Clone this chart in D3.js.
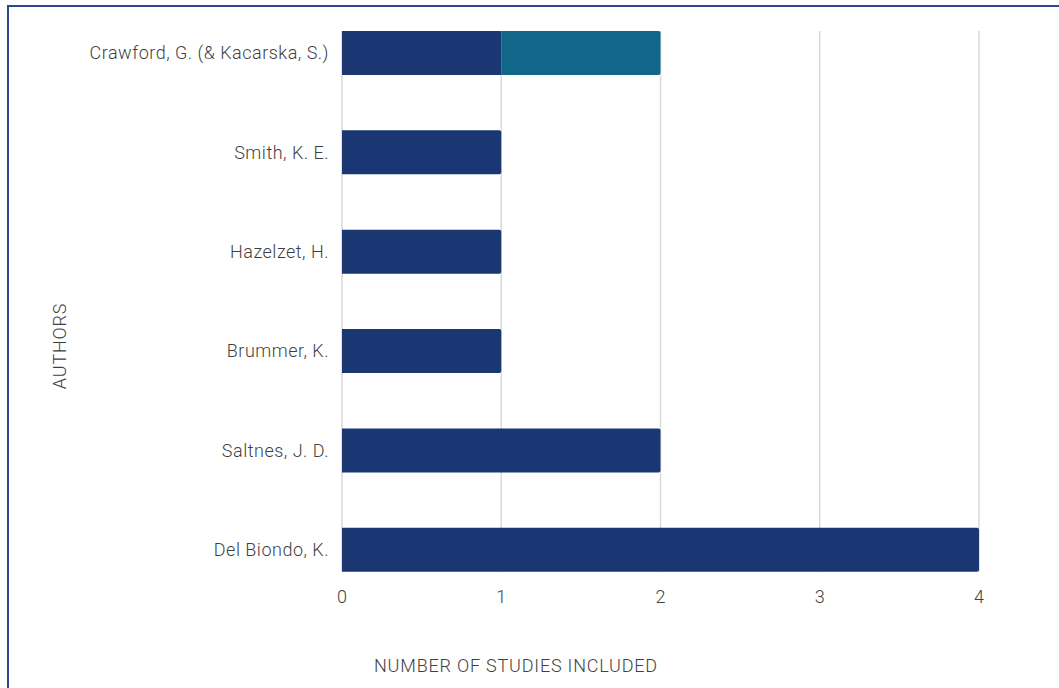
<!DOCTYPE html>
<html>
<head>
<meta charset="utf-8">
<script src="https://cdn.jsdelivr.net/npm/d3@7"></script>
<style>
  body { margin: 0; background: #fff; }
  text { font-family: Roboto, "Noto Sans", sans-serif; fill: #3f3f3f; font-weight: 300; }
</style>
</head>
<body>
<div class="chart"></div>
<script>
// authors top to bottom
const authors = ["Crawford, G. (& Kacarska, S.)", "Smith, K. E.", "Hazelzet, H.", "Brummer, K.", "Saltnes, J. D.", "Del Biondo, K."];
const mainStudies = [1, 1, 1, 1, 2, 4];   // navy part
const coStudies = [1, 0, 0, 0, 0, 0];     // teal part (co-author)
const xTicks = [0, 1, 2, 3, 4];

const width = 1059;
const height = 688;

const svg = d3.select(".chart")
    .append("svg")
    .attr("width", width)
    .attr("height", height);

// frame, only top + left show in the crop
svg.append("rect")
    .attr("x", 8)
    .attr("y", 6)
    .attr("width", 1200)
    .attr("height", 900)
    .attr("fill", "none")
    .attr("stroke", "#2b4a8c")
    .attr("stroke-width", 2);

const x = d3.scaleLinear()
    .domain([0, 4])
    .range([342, 979]);

const y = d3.scaleBand()
    .domain(authors)
    .range([31 - 99.4 * 0.28, 31 - 99.4 * 0.28 + 99.4 * 6])
    .paddingInner(0.557)
    .paddingOuter(0.28);

const gridTop = y(authors[0]);
const gridBottom = y(authors[authors.length - 1]) + y.bandwidth();

// vertical gridlines
svg.append("g")
    .selectAll("line")
    .data(xTicks)
    .enter()
    .append("line")
    .attr("x1", d => x(d))
    .attr("x2", d => x(d))
    .attr("y1", gridTop)
    .attr("y2", gridBottom)
    .attr("stroke", "#d9d9d9")
    .attr("stroke-width", 1.5);

const rows = authors.map((a, i) => ({name: a, main: mainStudies[i], co: coStudies[i]}));

// bar path with rounded right end
function barPath(x0, x1, y0, h, r) {
    return `M${x0},${y0}H${x1 - r}Q${x1},${y0} ${x1},${y0 + r}V${y0 + h - r}Q${x1},${y0 + h} ${x1 - r},${y0 + h}H${x0}Z`;
}

svg.append("g")
    .selectAll("path")
    .data(rows)
    .enter()
    .append("path")
    .attr("d", d => d.co > 0
        ? `M${x(0)},${y(d.name)}H${x(d.main)}V${y(d.name) + y.bandwidth()}H${x(0)}Z`
        : barPath(x(0), x(d.main), y(d.name), y.bandwidth(), 2))
    .attr("fill", "#1a3673");

svg.append("g")
    .selectAll("path")
    .data(rows.filter(d => d.co > 0))
    .enter()
    .append("path")
    .attr("d", d => barPath(x(d.main), x(d.main + d.co), y(d.name), y.bandwidth(), 2))
    .attr("fill", "#10678a");

// author labels
svg.append("g")
    .selectAll("text")
    .data(authors)
    .enter()
    .append("text")
    .attr("x", 329)
    .attr("y", d => y(d) + y.bandwidth() / 2)
    .attr("dy", "0.35em")
    .attr("text-anchor", "end")
    .style("font-size", "18px")
    .style("letter-spacing", "0.5px")
    .text(d => d);

// tick labels
svg.append("g")
    .selectAll("text")
    .data(xTicks)
    .enter()
    .append("text")
    .attr("x", d => x(d))
    .attr("y", 597)
    .attr("dy", "0.35em")
    .attr("text-anchor", "middle")
    .style("font-size", "18px")
    .text(d => d);

svg.append("text")
    .attr("x", 516)
    .attr("y", 666)
    .attr("dy", "0.35em")
    .attr("text-anchor", "middle")
    .style("font-size", "18px")
    .style("letter-spacing", "0.8px")
    .text("NUMBER OF STUDIES INCLUDED");

svg.append("text")
    .attr("transform", "translate(60, 346) rotate(-90)")
    .attr("dy", "0.35em")
    .attr("text-anchor", "middle")
    .style("font-size", "18px")
    .style("letter-spacing", "0.8px")
    .text("AUTHORS");
</script>
</body>
</html>
